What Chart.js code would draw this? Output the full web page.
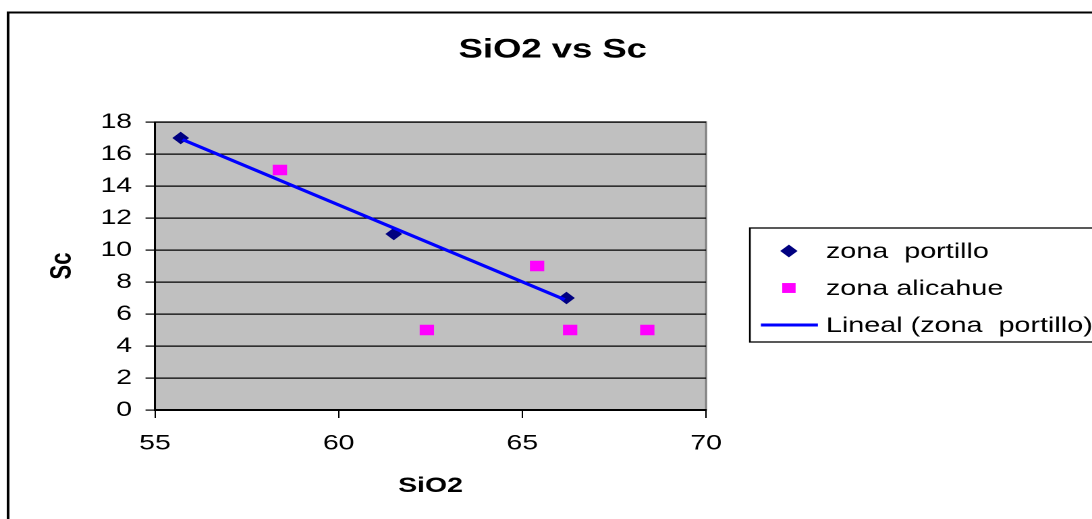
<!DOCTYPE html>
<html>
<head>
<meta charset="utf-8">
<script src="https://cdn.jsdelivr.net/npm/chart.js@4.4.1/dist/chart.umd.min.js"></script>
<style>
  html, body { margin: 0; padding: 0; background: #fff; overflow: hidden; }
  #wrap { width: 1092px; height: 519px; overflow: hidden; }
  /* the reference is a horizontally stretched picture, so the canvas is stretched too */
  #chart { transform-origin: 0 0; }
</style>
</head>
<body>
<div id="wrap"><canvas id="chart"></canvas></div>
<script>
// data
var portilloSiO2 = [55.7, 61.5, 66.2];
var portilloSc = [17, 11, 7];
var alicahueSiO2 = [58.4, 62.4, 65.4, 66.3, 68.4];
var alicahueSc = [15, 5, 9, 5, 5];
var trendSiO2 = [55.75, 66.15];
var trendSc = [16.9, 6.9];
var legendLabels = ['zona  portillo', 'zona alicahue', 'Lineal (zona  portillo)'];
var xTicks = [55, 60, 65, 70];
var yTicks = [0, 2, 4, 6, 8, 10, 12, 14, 16, 18];

var SX = 1.35;
var W = Math.round(1092 / SX);
var H = 519;
var FONT = "'Liberation Sans', Arial, sans-serif";

function toPoints(xs, ys) {
    var out = [];
    for (var i = 0; i < xs.length; i++) {
        out.push({x: xs[i], y: ys[i]});
    }
    return out;
}

var canvas = document.getElementById('chart');
canvas.width = W;
canvas.height = H;
canvas.style.width = W + 'px';
canvas.style.height = H + 'px';
canvas.style.transform = 'scaleX(' + (1092 / W) + ')';

var frame = {
    id: 'frame',
    beforeDraw: function(chart) {
        var ctx = chart.ctx, a = chart.chartArea;
        ctx.save();
        ctx.fillStyle = '#ffffff';
        ctx.fillRect(0, 0, chart.width, chart.height);
        // outer chart border
        ctx.strokeStyle = '#000000';
        ctx.lineWidth = 2;
        ctx.strokeRect(6, 12.5, chart.width + 10, chart.height + 10);
        // plot area
        ctx.fillStyle = '#c0c0c0';
        ctx.fillRect(a.left, a.top, a.right - a.left, a.bottom - a.top);
        ctx.strokeStyle = '#808080';
        ctx.lineWidth = 1.5;
        ctx.strokeRect(a.left, a.top, a.right - a.left, a.bottom - a.top);
        ctx.restore();
    },
    afterDraw: function(chart) {
        var ctx = chart.ctx;
        var ds = chart.data.datasets;
        var left = 750 / SX;
        var rows = [251, 288, 325];
        var mx = 789 / SX;
        ctx.save();
        ctx.strokeStyle = '#000000';
        ctx.lineWidth = 1.3;
        ctx.strokeRect(left, 228, chart.width, 114);
        ctx.font = '21.3px ' + FONT;
        ctx.fillStyle = '#000000';
        ctx.textBaseline = 'middle';
        for (var i = 0; i < legendLabels.length; i++) {
            ctx.fillText(legendLabels[i], 826 / SX, rows[i] + 1);
        }
        ctx.fillStyle = ds[0].backgroundColor;
        ctx.strokeStyle = ds[0].borderColor;
        Chart.helpers.drawPoint(ctx, {pointStyle: 'rectRot', radius: 5.5, borderWidth: 1}, mx, rows[0]);
        ctx.fillStyle = ds[1].backgroundColor;
        ctx.strokeStyle = ds[1].borderColor;
        Chart.helpers.drawPoint(ctx, {pointStyle: 'rect', radius: 7, borderWidth: 0}, mx, rows[1]);
        ctx.strokeStyle = ds[2].borderColor;
        ctx.lineWidth = 3;
        ctx.beginPath();
        ctx.moveTo(761 / SX, rows[2]);
        ctx.lineTo(818 / SX, rows[2]);
        ctx.stroke();
        ctx.restore();
    }
};

new Chart(canvas, {
    type: 'scatter',
    data: {
        datasets: [{
            label: legendLabels[0],
            data: toPoints(portilloSiO2, portilloSc),
            backgroundColor: '#000080',
            borderColor: '#000080',
            pointStyle: 'rectRot',
            pointRadius: 5.5,
            borderWidth: 1,
            order: 1
        }, {
            label: legendLabels[1],
            data: toPoints(alicahueSiO2, alicahueSc),
            backgroundColor: '#ff00ff',
            borderColor: '#ff00ff',
            pointStyle: 'rect',
            pointRadius: 7.5,
            borderWidth: 0,
            order: 2
        }, {
            type: 'line',
            label: legendLabels[2],
            data: toPoints(trendSiO2, trendSc),
            borderColor: '#0000ff',
            backgroundColor: '#0000ff',
            borderWidth: 3,
            pointRadius: 0,
            fill: false,
            order: 0
        }]
    },
    options: {
        responsive: false,
        animation: false,
        devicePixelRatio: 2,
        layout: { padding: { left: 10, right: 0, top: 0, bottom: 0 } },
        plugins: {
            legend: { display: false },
            tooltip: { enabled: false },
            title: {
                display: true,
                text: 'SiO2 vs Sc',
                color: '#000000',
                font: { family: FONT, size: 27, weight: 'bold' },
                padding: { top: 33.8, bottom: 55.8 }
            }
        },
        scales: {
            x: {
                type: 'linear',
                min: 55,
                max: 70,
                afterBuildTicks: function(scale) {
                    scale.ticks = xTicks.map(function(v) { return {value: v}; });
                },
                afterFit: function(scale) { scale.height = 109; },
                grid: { drawOnChartArea: false, drawTicks: true, tickLength: 8, color: '#000000' },
                border: { color: '#000000', width: 2 },
                ticks: { color: '#000000', padding: 13, font: { family: FONT, size: 21 } },
                title: {
                    display: true,
                    text: 'SiO2',
                    color: '#000000',
                    font: { family: FONT, size: 21, weight: 'bold' },
                    padding: { top: 0, bottom: 20 }
                }
            },
            y: {
                type: 'linear',
                min: 0,
                max: 18,
                afterBuildTicks: function(scale) {
                    scale.ticks = yTicks.map(function(v) { return {value: v}; });
                },
                afterFit: function(scale) { scale.width = 155 / SX - 10; },
                grid: { color: '#000000', lineWidth: 1.2, tickLength: 7 },
                border: { color: '#000000', width: 1.5 },
                ticks: { color: '#000000', padding: 10, font: { family: FONT, size: 21 } },
                title: {
                    display: true,
                    text: 'Sc',
                    color: '#000000',
                    font: { family: FONT, size: 22, weight: 'bold' },
                    padding: { top: 23, bottom: 0 }
                }
            },
            yr: {
                type: 'linear',
                position: 'right',
                afterFit: function(scale) { scale.width = (1092 - 706) / SX; },
                grid: { display: false },
                border: { display: false },
                ticks: { display: false }
            }
        }
    },
    plugins: [frame]
});
</script>
</body>
</html>
